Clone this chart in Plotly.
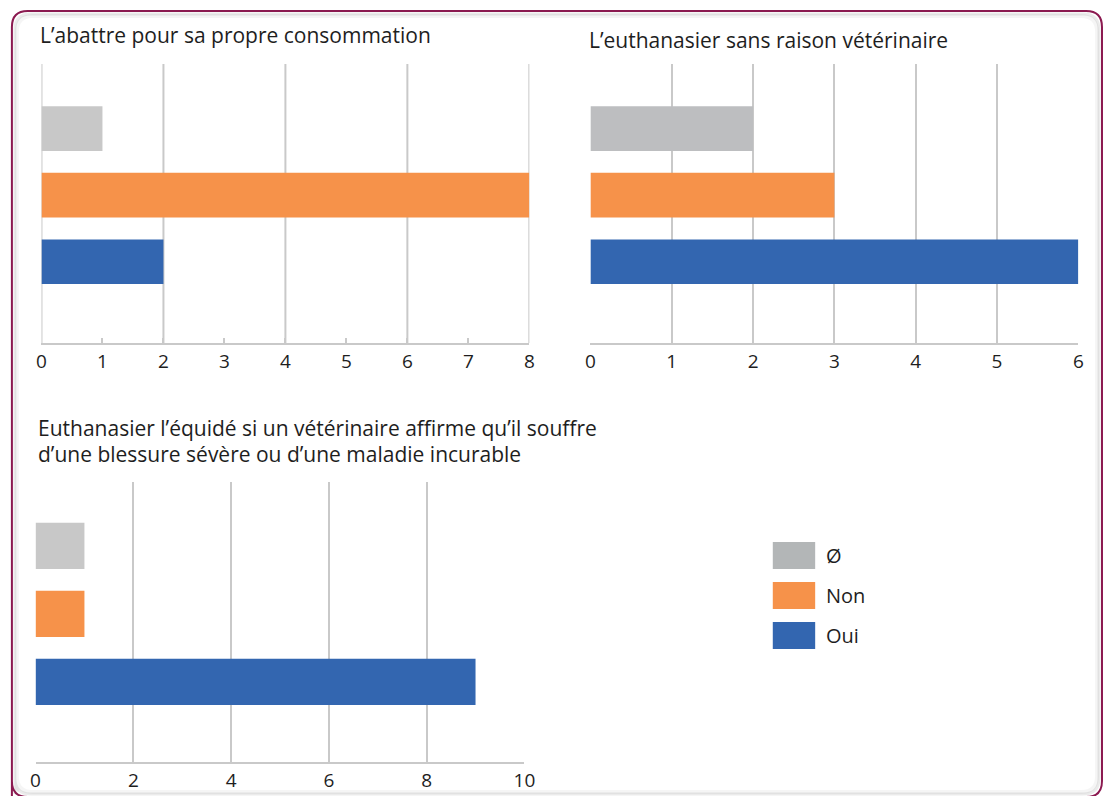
import plotly.graph_objects as go

# Réponses par catégorie (ordre d'affichage de haut en bas : Ø, Non, Oui)
categories = ["Oui", "Non", "Ø"]
labels_legend = ["Ø", "Non", "Oui"]

abattre = {"Ø": 1, "Non": 8, "Oui": 2}
euthanasier_sans_raison = {"Ø": 2, "Non": 3, "Oui": 6}
euthanasier_veto = {"Ø": 1, "Non": 1, "Oui": 9}

title_1 = "L’abattre pour sa propre consommation"
title_2 = "L’euthanasier sans raison vétérinaire"
title_3 = ["Euthanasier l’équidé si un vétérinaire affirme qu’il souffre",
           "d’une blessure sévère ou d’une maladie incurable"]

ORANGE = "#F6924A"
BLUE = "#3366B0"
GRID = "#C9C9C9"
TEXT = "#1E1E1E"
FONT = "Open Sans"

W, H = 1112, 796


def px(x):
    return x / W


def py(y):
    return 1 - y / H


fig = go.Figure()

panels = [
    (abattre, "x", "y", "#C8C8C8", 0.67),
    (euthanasier_sans_raison, "x2", "y2", "#BDBEC0", 0.67),
    (euthanasier_veto, "x3", "y3", "#C8C8C8", 0.68),
]

for data, xa, ya, gray, bw in panels:
    cols = {"Ø": gray, "Non": ORANGE, "Oui": BLUE}
    for cat in categories:
        fig.add_trace(go.Bar(
            x=[data[cat]], y=[cat], orientation="h",
            marker=dict(color=cols[cat], line=dict(width=0)),
            width=bw, xaxis=xa, yaxis=ya, showlegend=False,
            hoverinfo="skip",
        ))


def xaxis(domain, rng, dtick, grid, anchor):
    return dict(
        domain=domain, range=rng, dtick=dtick, tick0=0, anchor=anchor,
        showgrid=grid, gridcolor=GRID, gridwidth=2,
        showline=True, linecolor=GRID, linewidth=2,
        ticks="inside", ticklen=5, tickwidth=2, tickcolor=GRID,
        zeroline=False, fixedrange=True,
        tickfont=dict(family=FONT, size=19, color=TEXT),
    )


def yaxis(domain, anchor, rng):
    return dict(
        domain=domain, range=rng, type="category",
        categoryorder="array", categoryarray=categories,
        showticklabels=False, showgrid=False, zeroline=False,
        showline=False, ticks="", anchor=anchor, fixedrange=True,
    )


top = [py(343), py(64)]
bottom = [py(762), py(482)]

fig.update_layout(
    width=W, height=H,
    margin=dict(l=0, r=0, t=0, b=0),
    paper_bgcolor="white", plot_bgcolor="rgba(0,0,0,0)",
    barmode="overlay",
    xaxis=xaxis([px(37), px(532)], [0, 8], 1, False, "y"),
    yaxis=yaxis(top, "x", [-1.22, 2.97]),
    xaxis2=xaxis([px(594), px(1089)], [0, 6], 1, True, "y2"),
    yaxis2=yaxis(top, "x2", [-1.22, 2.97]),
    xaxis3=xaxis([px(31), px(527)], [0, 10], 2, True, "y3"),
    yaxis3=yaxis(bottom, "x3", [-1.18, 2.94]),
    font=dict(family=FONT, color=TEXT),
)

# Premier panneau : graduations tous les 1, quadrillage tous les 2
for v in range(0, 9, 2):
    fig.add_shape(type="line", xref="x", yref="y domain", x0=v, x1=v, y0=0, y1=1,
                  line=dict(color=GRID, width=2), layer="below")

# Titres des panneaux
title_lines = [(title_1, 33, 35), (title_2, 591, 40),
               (title_3[0], 31, 428), (title_3[1], 31, 454)]
for t, tx, ty in title_lines:
    fig.add_annotation(text=t, x=px(tx), y=py(ty), xref="paper", yref="paper",
                       xanchor="left", yanchor="middle", showarrow=False,
                       font=dict(family=FONT, size=21, color=TEXT))

# Légende
legend_colors = {"Ø": "#B3B6B7", "Non": ORANGE, "Oui": BLUE}
for i, lab in enumerate(labels_legend):
    y0 = 542 + i * 40
    fig.add_shape(type="rect", xref="paper", yref="paper",
                  x0=px(779), x1=px(822), y0=py(y0), y1=py(y0 + 27),
                  fillcolor=legend_colors[lab], line=dict(width=0))
    fig.add_annotation(text=lab, x=px(831), y=py(y0 + 13.5), xref="paper", yref="paper",
                       xanchor="left", yanchor="middle", showarrow=False,
                       font=dict(family=FONT, size=20, color=TEXT))


# Cadre arrondi
def frame_path(x0, y0, x1, y1, r):
    return (f"M {px(x0)},{py(y1)} L {px(x0)},{py(y0 + r)} "
            f"Q {px(x0)},{py(y0)} {px(x0 + r)},{py(y0)} "
            f"L {px(x1 - r)},{py(y0)} Q {px(x1)},{py(y0)} {px(x1)},{py(y0 + r)} "
            f"L {px(x1)},{py(y1 - r)} Q {px(x1)},{py(y1)} {px(x1 - r)},{py(y1)} "
            f"L {px(x0 + r)},{py(y1)} Q {px(x0)},{py(y1)} {px(x0)},{py(y1 - r)} Z")


for off, col, wdt in [(5, "rgba(0,0,0,0.04)", 4), (3, "rgba(0,0,0,0.08)", 3)]:
    fig.add_shape(type="path", xref="paper", yref="paper",
                  path=frame_path(7 + off, 11 + off, 1113 - off, 797 - off, 16),
                  line=dict(color=col, width=wdt))
fig.add_shape(type="path", xref="paper", yref="paper",
              path=frame_path(7, 11, 1113, 797, 16),
              line=dict(color="#8B1A50", width=2))

fig.write_html("out.html", config={"displayModeBar": False})
